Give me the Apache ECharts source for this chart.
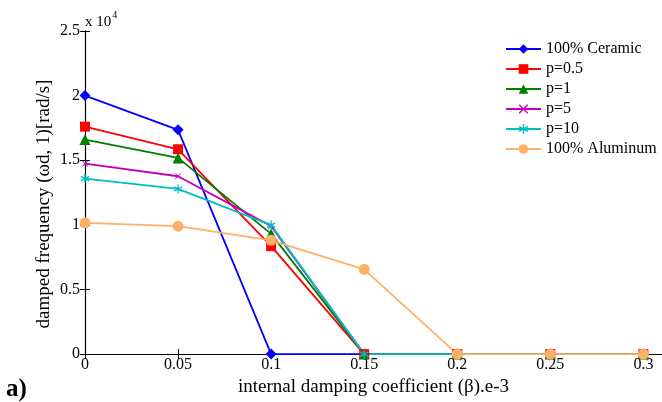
<!DOCTYPE html>
<html>
<head>
<meta charset="utf-8">
<script src="https://cdn.jsdelivr.net/npm/echarts@6/dist/echarts.min.js"></script>
<style>
  html, body { margin: 0; padding: 0; background: #fff; }
  #chart { width: 662px; height: 402px; }
</style>
</head>
<body>
<div id="chart"></div>
<script>
'use strict'

// internal damping coefficient (beta), e-3
const betaValues = [0, 0.05, 0.1, 0.15, 0.2, 0.25, 0.3]

// damped frequency, in units of 1e4 rad/s
const ceramic = [2.0, 1.735, 0, 0, 0, 0, 0]
const p05 = [1.76, 1.585, 0.835, 0, 0, 0, 0]
const p1 = [1.66, 1.518, 0.93, 0, 0, 0, 0]
const p5 = [1.474, 1.376, 0.99, 0, 0, 0, 0]
const p10 = [1.358, 1.278, 0.998, 0, 0, 0, 0]
const aluminum = [1.016, 0.99, 0.88, 0.656, 0, 0, 0]

const seriesNames = ['100% Ceramic', 'p=0.5', 'p=1', 'p=5', 'p=10', '100% Aluminum']
const yTicks = [0, 0.5, 1, 1.5, 2, 2.5]

const FONT = '"Liberation Serif", "Times New Roman", serif'

const X_MARK = 'path://M0,1 L1,0 L5,4 L9,0 L10,1 L6,5 L10,9 L9,10 L5,6 L1,10 L0,9 L4,5 Z'
const STAR_MARK = 'path://M4.3,0 L5.7,0 L5.7,3.8 L9,1.9 L9.7,3.1 L6.4,5 L9.7,6.9 L9,8.1 L5.7,6.2 L5.7,10 L4.3,10 L4.3,6.2 L1,8.1 L0.3,6.9 L3.6,5 L0.3,3.1 L1,1.9 L4.3,3.8 Z'

function makeSeries (name, values, color, symbol, size) {
  return {
    name,
    type: 'line',
    data: betaValues.map((b, i) => [b, values[i]]),
    symbol,
    symbolSize: size,
    showAllSymbol: true,
    lineStyle: { color, width: 1.8 },
    itemStyle: { color },
    emphasis: { disabled: true },
    animation: false
  }
}

const chart = echarts.init(document.getElementById('chart'), null, { renderer: 'canvas' })

const option = {
  backgroundColor: '#fff',
  animation: false,
  textStyle: { fontFamily: FONT },
  grid: { left: 85, top: 31, width: 578, height: 324 },
  legend: {
    orient: 'vertical',
    left: 500,
    top: 36,
    padding: 5,
    itemWidth: 35,
    itemHeight: 12,
    itemGap: 4,
    data: seriesNames,
    textStyle: { fontFamily: FONT, fontSize: 16, color: '#000' },
    backgroundColor: '#fff'
  },
  xAxis: [{
    type: 'value',
    min: 0,
    max: 0.31,
    interval: 0.05,
    name: 'internal damping coefficient (β).e-3',
    nameLocation: 'middle',
    nameGap: 18,
    nameTextStyle: { fontFamily: FONT, fontSize: 19, color: '#000' },
    axisLine: { lineStyle: { color: '#000', width: 1.2 } },
    axisTick: { inside: true, length: 5, lineStyle: { color: '#000' } },
    axisLabel: {
      fontFamily: FONT, fontSize: 16, color: '#000', margin: 3,
      showMaxLabel: false,
      formatter: v => (Math.abs(v * 20 - Math.round(v * 20)) < 1e-6 ? String(+v.toFixed(2)) : '')
    },
    splitLine: { show: false }
  }, {
    type: 'value',
    position: 'top',
    min: 0,
    max: 0.31,
    interval: 0.05,
    axisLine: { lineStyle: { color: '#000', width: 1.2 } },
    axisTick: { inside: true, length: 5, lineStyle: { color: '#000' } },
    axisLabel: { show: false },
    splitLine: { show: false }
  }],
  yAxis: [{
    type: 'value',
    min: yTicks[0],
    max: yTicks[yTicks.length - 1],
    interval: 0.5,
    axisLine: { lineStyle: { color: '#000', width: 1.2 } },
    axisTick: { inside: true, length: 5, lineStyle: { color: '#000' } },
    axisLabel: { fontFamily: FONT, fontSize: 16, color: '#000', margin: 5 },
    splitLine: { show: false }
  }, {
    type: 'value',
    position: 'right',
    min: 0,
    max: 2.5,
    interval: 0.5,
    axisLine: { lineStyle: { color: '#000' } },
    axisTick: { inside: true, length: 5, lineStyle: { color: '#000' } },
    axisLabel: { show: false },
    splitLine: { show: false }
  }],
  series: [
    makeSeries(seriesNames[0], ceramic, '#0000ff', 'diamond', 11),
    makeSeries(seriesNames[1], p05, '#ff0000', 'rect', 10),
    makeSeries(seriesNames[2], p1, '#008000', 'triangle', 11),
    makeSeries(seriesNames[3], p5, '#bf00bf', X_MARK, 6),
    makeSeries(seriesNames[4], p10, '#00bfbf', STAR_MARK, 9),
    makeSeries(seriesNames[5], aluminum, '#ffb066', 'circle', 11)
  ],
  graphic: [{
    type: 'text',
    x: 44,
    y: 204,
    rotation: Math.PI / 2,
    style: {
      text: 'damped frequency (ωd, 1)[rad/s]',
      fontFamily: FONT,
      fontSize: 19,
      fill: '#000',
      align: 'center',
      verticalAlign: 'middle'
    }
  }, {
    type: 'text',
    left: 85,
    top: 10,
    style: {
      text: '{b|x 10}{s|4}',
      rich: {
        b: { fontFamily: FONT, fontSize: 15, fill: '#000', verticalAlign: 'bottom', lineHeight: 20 },
        s: { fontFamily: FONT, fontSize: 10, fill: '#000', verticalAlign: 'top', lineHeight: 20, padding: [0, 0, 10, 1] }
      }
    }
  }, {
    type: 'text',
    left: 6,
    top: 377,
    style: { text: 'a)', fontFamily: FONT, fontSize: 25, fontWeight: 'bold', fill: '#000' }
  }]
}

chart.setOption(option)
</script>
</body>
</html>
